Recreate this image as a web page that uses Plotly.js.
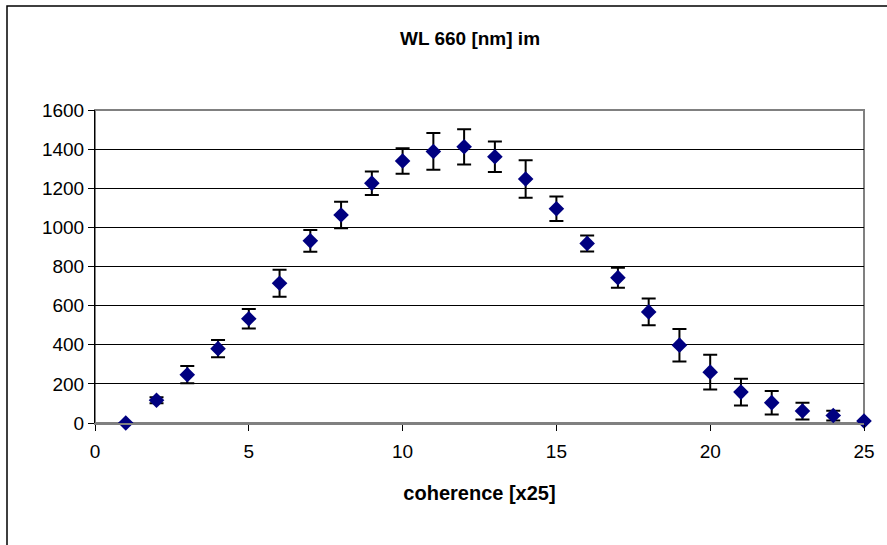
<!DOCTYPE html>
<html>
<head>
<meta charset="utf-8">
<script src="https://cdn.plot.ly/plotly-3.0.1.min.js"></script>
<style>
html,body{margin:0;padding:0;background:#fff;}
#chart{width:887px;height:545px;}
</style>
</head>
<body>
<div id="chart"></div>
<script>
var coherence = [1,2,3,4,5,6,7,8,9,10,11,12,13,14,15,16,17,18,19,20,21,22,23,24,25];
var intensity = [0,116,247,380,533,714,931,1063,1226,1339,1388,1412,1361,1247,1095,918,743,568,398,260,158,104,61,38,10];
var errors = [0,15,44,44,50,69,55,68,60,65,94,90,78,96,63,41,51,68,83,89,68,60,43,25,0];
var xTicks = [0,5,10,15,20,25];
var yTicks = [0,200,400,600,800,1000,1200,1400,1600];

var trace = {
  x: coherence,
  y: intensity,
  type: 'scatter',
  mode: 'markers',
  cliponaxis: false,
  marker: {symbol: 'diamond', size: 12, color: '#000080', line: {width: 0}},
  error_y: {type: 'data', array: errors, visible: true, color: '#000000', thickness: 2, width: 7}
};

var pw = 887 - 95 - 23, ph = 545 - 110 - 122;
var layout = {
  width: 887, height: 545,
  margin: {l: 95, r: 23, t: 110, b: 122},
  paper_bgcolor: '#ffffff', plot_bgcolor: '#ffffff',
  showlegend: false,
  font: {family: 'Liberation Sans, Arial, sans-serif', color: '#000000', size: 19},
  title: {text: '<b>WL 660 [nm] im</b>', font: {size: 19, family: 'Liberation Sans, Arial, sans-serif'},
          x: 470/887, xref: 'container', xanchor: 'center', y: 1 - 38/545, yref: 'container', yanchor: 'middle'},
  xaxis: {
    range: [0, 25], tickvals: xTicks, ticktext: xTicks.map(String),
    showgrid: false, zeroline: false,
    showline: true, linecolor: '#808080', linewidth: 2,
    ticks: 'outside', ticklen: 6, tickcolor: '#000000', tickwidth: 1,
    tickfont: {size: 19}, ticklabelstandoff: 4,
    title: {text: '<b>coherence [x25]</b>', font: {size: 20}, standoff: 25}
  },
  yaxis: {
    range: [0, 1600], tickvals: yTicks, ticktext: yTicks.map(String),
    showgrid: true, gridcolor: '#000000', gridwidth: 1, zeroline: false,
    showline: true, linecolor: '#000000', linewidth: 1,
    ticks: 'outside', ticklen: 6, tickcolor: '#000000', tickwidth: 1,
    tickfont: {size: 19}
  },
  shapes: [
    {type: 'rect', xref: 'paper', yref: 'paper', x0: 0, x1: 1, y0: 0, y1: 1,
     line: {color: '#808080', width: 2}, layer: 'below'},
    {type: 'rect', xref: 'paper', yref: 'paper',
     x0: (7 - 95) / pw, x1: (900 - 95) / pw, y0: (423 - 560) / ph, y1: (423 - 6) / ph,
     line: {color: '#000000', width: 1.5}, layer: 'below'}
  ]
};

Plotly.newPlot('chart', [trace], layout, {displayModeBar: false, staticPlot: true});
</script>
</body>
</html>
